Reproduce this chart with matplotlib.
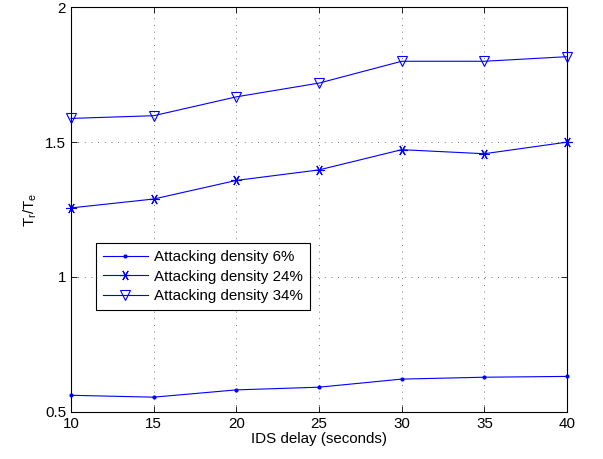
import matplotlib
matplotlib.use('Agg')

import matplotlib.pyplot as plt

plt.rcParams['font.family'] = ['Liberation Sans', 'DejaVu Sans']
plt.rcParams['mathtext.default'] = 'regular'

delay = [10, 15, 20, 25, 30, 35, 40]
density_6 = [0.561, 0.554, 0.581, 0.591, 0.621, 0.628, 0.631]
density_24 = [1.256, 1.289, 1.358, 1.397, 1.472, 1.457, 1.500]
density_34 = [1.588, 1.598, 1.668, 1.719, 1.800, 1.800, 1.817]

x_ticks = [10, 15, 20, 25, 30, 35, 40]
y_ticks = [0.5, 1, 1.5, 2]
y_tick_labels = ['0.5', '1', '1.5', '2']

fig = plt.figure(figsize=(6.03, 4.59), dpi=100)
ax = fig.add_axes([0.1177, 0.103, 0.8226, 0.881])

blue = '#0000ff'
ax.plot(delay, density_6, color=blue, linewidth=0.8, marker='.', markersize=4,
        label='Attacking density 6%', clip_on=False)
ax.plot(delay, density_24, color=blue, linewidth=0.8, marker=(6, 2, 90), markersize=7.5,
        markeredgewidth=0.8, label='Attacking density 24%', clip_on=False)
ax.plot(delay, density_34, color=blue, linewidth=0.8, marker='v', markersize=7.5,
        markerfacecolor='none', markeredgewidth=0.8, label='Attacking density 34%',
        clip_on=False)

ax.set_xlim(10, 40)
ax.set_ylim(0.5, 2)
ax.set_xticks(x_ticks)
ax.set_yticks(y_ticks)
ax.set_yticklabels(y_tick_labels)
ax.tick_params(direction='in', labelsize=10.9, length=4, width=0.6, top=True, right=True)
ax.grid(True, linestyle=(0, (1, 7)), color='#444444', linewidth=0.6)
for s in ax.spines.values():
    s.set_linewidth(0.8)

ax.set_xlabel('IDS delay (seconds)', fontsize=10.9, labelpad=1)
ax.set_ylabel('T$_r$/T$_e$', fontsize=10.9, labelpad=4)

leg = ax.legend(loc='upper left', bbox_to_anchor=(0.05, 0.417), borderaxespad=0,
                fontsize=10.9, frameon=True, fancybox=False, edgecolor='black',
                framealpha=1, handlelength=3.0, borderpad=0.45, labelspacing=0.37,
                handletextpad=0.4)
leg.get_frame().set_linewidth(0.8)

fig.savefig('out.png', dpi=100)
plt.close(fig)
